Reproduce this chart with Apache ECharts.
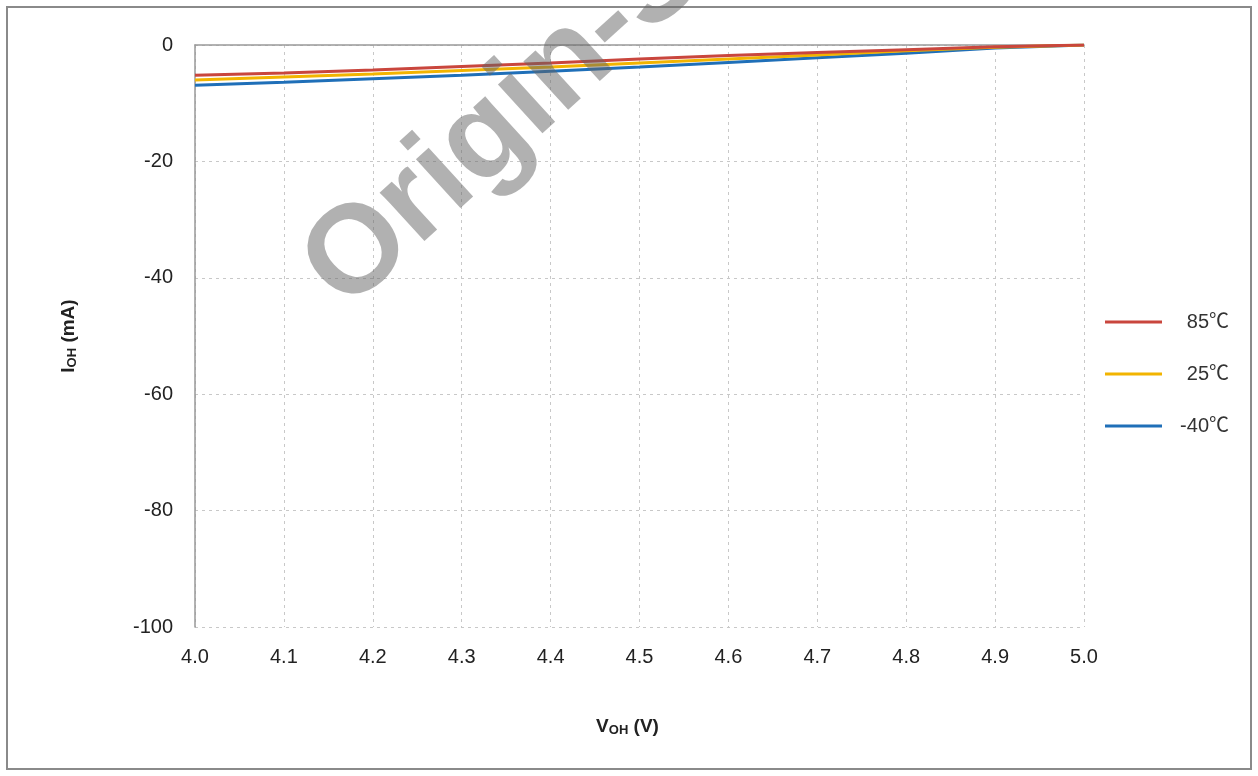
<!DOCTYPE html>
<html><head><meta charset="utf-8">
<script src="https://cdn.jsdelivr.net/npm/echarts@6/dist/echarts.min.js"></script>
<style>html,body{margin:0;padding:0;background:#fff}#c{width:1258px;height:776px}</style>
</head><body><div id="c"></div>
<script>
const xValues = [4.0, 4.1, 4.2, 4.3, 4.4, 4.5, 4.6, 4.7, 4.8, 4.9, 5.0];
const seriesNames = ['85℃', '25℃', '-40℃'];
const i85 = [-5.2, -4.8, -4.3, -3.7, -3.1, -2.4, -1.8, -1.3, -0.8, -0.3, 0];
const i25 = [-6.0, -5.5, -5.0, -4.4, -3.8, -3.1, -2.4, -1.7, -1.0, -0.4, 0];
const im40 = [-6.9, -6.4, -5.8, -5.2, -4.5, -3.8, -3.0, -2.2, -1.4, -0.5, 0];
const colors = ['#c9463d', '#f2b400', '#1f6fb8'];
const seriesData = [i85, i25, im40];

const chart = echarts.init(document.getElementById('c'));
const font = 'Liberation Sans, Arial, sans-serif';
const legendFont = '"Liberation Sans", "Noto Sans CJK SC", sans-serif';
const subRich = { s: { fontFamily: font, fontSize: 13, fontWeight: 'bold', color: '#222', padding: [7, 0, 0, 0] } };
chart.setOption({
  animation: false,
  backgroundColor: '#fff',
  graphic: [
    { type: 'rect', shape: { x: 7, y: 7, width: 1244, height: 762 }, style: { fill: 'none', stroke: '#8a8a8a', lineWidth: 2 }, z: 0 },
    { type: 'text', x: 323, y: 287, rotation: 0.74, z: 100,
      style: { text: 'Origin-S', font: 'bold 125px Liberation Sans, Arial, sans-serif', fill: 'rgba(100,100,100,0.5)', align: 'left', verticalAlign: 'middle', textAlign: 'left', textVerticalAlign: 'middle' } }
  ],
  grid: { left: 195, right: 174, top: 45, bottom: 149 },
  legend: {
    orient: 'vertical', left: 1100, top: 307, itemGap: 32,
    itemWidth: 57, itemHeight: 3,
    formatter: n => '{a|' + n + '}',
    textStyle: { fontFamily: legendFont, fontSize: 20, color: '#333',
      rich: { a: { fontFamily: legendFont, fontSize: 20, color: '#333', width: 62, align: 'right' } } },
    data: seriesNames.map(n => ({ name: n, icon: 'rect' }))
  },
  xAxis: {
    type: 'value', min: 4.0, max: 5.0, interval: 0.1,
    name: 'V{s|OH} (V)', nameLocation: 'middle', nameGap: 90,
    nameTextStyle: { fontFamily: font, fontSize: 19, fontWeight: 'bold', color: '#222', padding: [0, 24, 0, 0], rich: subRich },
    axisLine: { lineStyle: { color: '#999', width: 1.5 } },
    axisTick: { show: false },
    axisLabel: { fontFamily: font, fontSize: 20, color: '#222', margin: 20, formatter: v => v.toFixed(1) },
    splitLine: { show: true, lineStyle: { color: '#c8c8c8', type: [3, 4], width: 1 } }
  },
  yAxis: {
    type: 'value', min: -100, max: 0, interval: 20,
    name: 'I{s|OH} (mA)', nameLocation: 'middle', nameGap: 116, nameRotate: 90,
    nameTextStyle: { fontFamily: font, fontSize: 19, fontWeight: 'bold', color: '#222', rich: subRich },
    axisLine: { show: true, lineStyle: { color: '#999', width: 1.5 } },
    axisTick: { show: false },
    axisLabel: { fontFamily: font, fontSize: 20, color: '#222', margin: 22 },
    splitLine: { show: true, lineStyle: { color: '#c8c8c8', type: [3, 4], width: 1 } }
  },
  series: seriesNames.map((n, i) => ({
    name: n, type: 'line', symbol: 'none', color: colors[i],
    lineStyle: { width: 3, color: colors[i] },
    data: xValues.map((x, k) => [x, seriesData[i][k]]),
    z: 10 - i
  }))
});
</script></body></html>
